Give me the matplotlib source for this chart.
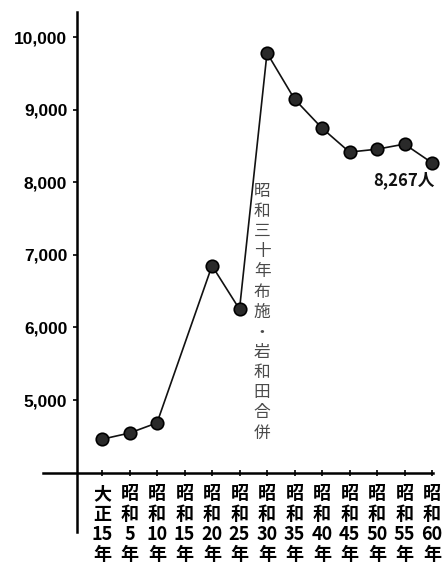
import matplotlib
matplotlib.use("Agg")
import matplotlib.pyplot as plt
import numpy as np

# 人口の推移 (大正15年 ~ 昭和60年)
periods = ["大正\n15\n年", "昭和\n5\n年", "昭和\n10\n年", "昭和\n15\n年", "昭和\n20\n年",
           "昭和\n25\n年", "昭和\n30\n年", "昭和\n35\n年", "昭和\n40\n年", "昭和\n45\n年",
           "昭和\n50\n年", "昭和\n55\n年", "昭和\n60\n年"]
population = [4460, 4545, 4685, None, 6850, 6250, 9780, 9145, 8745, 8415, 8455, 8525, 8267]
y_ticks = [5000, 6000, 7000, 8000, 9000, 10000]
y_tick_labels = ["5,000", "6,000", "7,000", "8,000", "9,000", "10,000"]
merger_note = "昭和三十年布施・岩和田合併"
last_label = "8,267人"

def stack(s):
    # 縦書き用: 漢字は一文字ずつ、数字はまとめて
    parts = s.split("\n")
    out = []
    for p in parts:
        if p.isdigit():
            out.append(p)
        else:
            out.extend(list(p))
    return "\n".join(out)

jp = ["Noto Sans CJK JP", "DejaVu Sans"]

fig = plt.figure(figsize=(4.43, 5.68), dpi=100)
ax = fig.add_axes([0, 0, 1, 1])
ax.set_facecolor("white")

xs = [i for i, v in enumerate(population) if v is not None]
ys = [v for v in population if v is not None]
ax.plot(xs, ys, color="#111111", lw=1.2, marker="o", ms=9,
        markerfacecolor="#2a2a2a", markeredgecolor="#000000", markeredgewidth=1.2, zorder=3)

ax.set_xlim(-3.71, 12.4)
ax.set_ylim(2686, 10510)

for s in ["top", "right"]:
    ax.spines[s].set_visible(False)
ax.spines["left"].set_position(("data", -0.91))
ax.spines["left"].set_bounds(3182, 10344)
ax.spines["left"].set_linewidth(1.8)
ax.spines["bottom"].set_position(("data", 4000))
ax.spines["bottom"].set_bounds(-2.15, 12.05)
ax.spines["bottom"].set_linewidth(1.8)

ax.set_yticks(y_ticks)
ax.set_yticklabels(y_tick_labels, fontsize=12.5, fontweight="bold", family=["Liberation Sans", "DejaVu Sans"])
ax.tick_params(axis="y", direction="out", length=3, width=1.2, pad=4)

ax.set_xticks(range(len(periods)))
ax.set_xticklabels([stack(p) for p in periods], fontsize=13, fontweight="bold",
                   family=jp, linespacing=1.08, va="top")
ax.tick_params(axis="x", direction="inout", length=5, width=1.2, pad=6)

ax.text(5.82, 7990, "\n".join(merger_note), family=jp, fontsize=12, color="#4a4a4a",
        ha="center", va="top", linespacing=1.24)

ax.text(9.85, 8000 + (182 - 180) / 72.6 * 1000, last_label, family=jp, fontsize=12,
        fontweight="bold", ha="left", va="center", color="#111111")

fig.savefig("out.png", dpi=100)
